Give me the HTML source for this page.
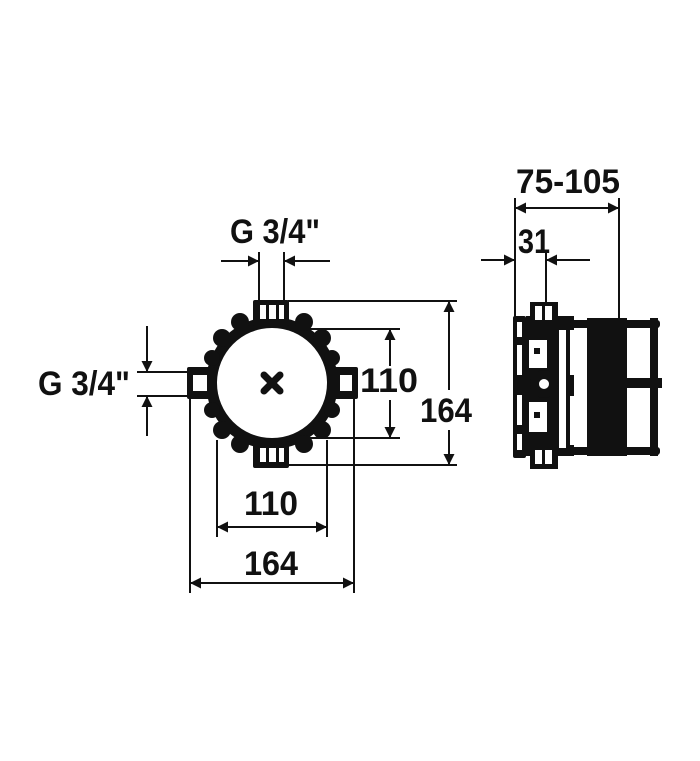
<!DOCTYPE html>
<html><head><meta charset="utf-8"><style>html,body{margin:0;padding:0;background:#fff}svg{display:block}</style></head><body>
<svg width="700" height="761" viewBox="0 0 700 761" xmlns="http://www.w3.org/2000/svg">
<defs>
<marker id="a" viewBox="0 0 10 10" refX="10" refY="5" markerWidth="18" markerHeight="11" markerUnits="userSpaceOnUse" orient="auto"><path d="M0,0L10,5L0,10z" fill="#111"/></marker>
</defs>
<g fill="#111" font-family="Liberation Sans Narrow, Liberation Sans, sans-serif" font-weight="bold" font-size="34">
<text x="230" y="243" textLength="90" lengthAdjust="spacingAndGlyphs">G 3/4"</text>
<text x="38" y="395" textLength="92" lengthAdjust="spacingAndGlyphs">G 3/4"</text>
<text x="360" y="392" textLength="58" lengthAdjust="spacingAndGlyphs">110</text>
<text x="420" y="422" textLength="52" lengthAdjust="spacingAndGlyphs">164</text>
<text x="244" y="515" textLength="54" lengthAdjust="spacingAndGlyphs">110</text>
<text x="244" y="575" textLength="54" lengthAdjust="spacingAndGlyphs">164</text>
<text x="516" y="193" textLength="104" lengthAdjust="spacingAndGlyphs">75-105</text>
<text x="518" y="253" textLength="32" lengthAdjust="spacingAndGlyphs">31</text>
</g>
<g stroke="#111" stroke-width="2" fill="none">
<line x1="259" y1="252" x2="259" y2="300"/><line x1="284" y1="252" x2="284" y2="300"/>
<line x1="221" y1="261" x2="259" y2="261" marker-end="url(#a)"/><line x1="330" y1="261" x2="284" y2="261" marker-end="url(#a)"/>
<line x1="137" y1="372" x2="190" y2="372"/><line x1="137" y1="396" x2="190" y2="396"/>
<line x1="147" y1="326" x2="147" y2="372" marker-end="url(#a)"/><line x1="147" y1="436" x2="147" y2="396" marker-end="url(#a)"/>
<line x1="290" y1="329" x2="400" y2="329"/><line x1="290" y1="438" x2="400" y2="438"/>
<line x1="390" y1="366" x2="390" y2="329" marker-end="url(#a)"/><line x1="390" y1="400" x2="390" y2="438" marker-end="url(#a)"/>
<line x1="288" y1="301" x2="457" y2="301"/><line x1="288" y1="465" x2="457" y2="465"/>
<line x1="449" y1="390" x2="449" y2="301" marker-end="url(#a)"/><line x1="449" y1="430" x2="449" y2="465" marker-end="url(#a)"/>
<line x1="217" y1="440" x2="217" y2="537"/><line x1="327" y1="440" x2="327" y2="537"/>
<line x1="272" y1="527" x2="217" y2="527" marker-end="url(#a)"/><line x1="272" y1="527" x2="327" y2="527" marker-end="url(#a)"/>
<line x1="190" y1="398" x2="190" y2="593"/><line x1="354" y1="398" x2="354" y2="593"/>
<line x1="272" y1="583" x2="190" y2="583" marker-end="url(#a)"/><line x1="272" y1="583" x2="354" y2="583" marker-end="url(#a)"/>
<line x1="515" y1="198" x2="515" y2="318"/><line x1="619" y1="198" x2="619" y2="320"/>
<line x1="567" y1="208" x2="515" y2="208" marker-end="url(#a)"/><line x1="567" y1="208" x2="619" y2="208" marker-end="url(#a)"/>
<line x1="546" y1="252" x2="546" y2="302"/>
<line x1="481" y1="260" x2="515" y2="260" marker-end="url(#a)"/><line x1="590" y1="260" x2="546" y2="260" marker-end="url(#a)"/>
</g>
<g fill="#111">
<circle cx="272" cy="383" r="66"/>
<circle cx="240" cy="322" r="9"/><circle cx="304" cy="322" r="9"/><circle cx="222" cy="338" r="9"/><circle cx="322" cy="338" r="9"/>
<circle cx="212" cy="358" r="8"/><circle cx="332" cy="358" r="8"/><circle cx="212" cy="410" r="8"/><circle cx="332" cy="410" r="8"/>
<circle cx="222" cy="430" r="9"/><circle cx="322" cy="430" r="9"/><circle cx="240" cy="444" r="9"/><circle cx="304" cy="444" r="9"/>
<rect x="253" y="300" width="36" height="26" rx="2"/>
<rect x="253" y="441" width="36" height="27" rx="2"/>
<rect x="187" y="367" width="28" height="32" rx="2"/>
<rect x="330" y="367" width="28" height="32" rx="2"/>
</g>
<g fill="#fff">
<circle cx="272" cy="383" r="55"/>
<rect x="260" y="305" width="6" height="14"/><rect x="269" y="305" width="7" height="14"/><rect x="279" y="305" width="5" height="14"/>
<rect x="260" y="448" width="6" height="14"/><rect x="269" y="448" width="7" height="14"/><rect x="279" y="448" width="5" height="14"/>
<rect x="193" y="375" width="14" height="16"/><rect x="340" y="375" width="12" height="16"/>
</g>
<g stroke="#111" stroke-width="7" stroke-linecap="round"><line x1="264" y1="375" x2="280" y2="391"/><line x1="280" y1="375" x2="264" y2="391"/></g>
<g fill="#111">
<rect x="513" y="316" width="13" height="142" rx="2"/>
<rect x="530" y="302" width="28" height="24"/>
<rect x="530" y="445" width="28" height="24"/>
<rect x="526" y="316" width="48" height="140"/>
<rect x="570" y="320" width="90" height="8" rx="3"/>
<rect x="570" y="447" width="90" height="8" rx="3"/>
<rect x="587" y="318" width="40" height="138"/>
<rect x="650" y="318" width="8" height="138"/>
<rect x="600" y="378" width="62" height="10"/>
</g>
<g fill="#fff">
<rect x="517" y="322" width="5" height="15"/><rect x="517" y="345" width="5" height="30"/><rect x="517" y="395" width="5" height="30"/><rect x="517" y="434" width="5" height="16"/>
<rect x="535" y="306" width="7" height="14"/><rect x="545" y="306" width="7" height="14"/>
<rect x="535" y="450" width="7" height="14"/><rect x="545" y="450" width="7" height="14"/>
<rect x="529" y="340" width="18" height="28"/><rect x="529" y="402" width="18" height="30"/>
<rect x="559" y="330" width="7" height="118"/>
<rect x="570" y="330" width="15" height="45"/><rect x="570" y="396" width="15" height="49"/>
<rect x="631" y="330" width="17" height="45"/><rect x="631" y="391" width="17" height="54"/>
</g>
<rect x="534" y="348" width="6" height="6" fill="#111"/><rect x="534" y="412" width="6" height="6" fill="#111"/>
<circle cx="544" cy="384" r="14" fill="#111"/><circle cx="544" cy="384" r="5" fill="#fff"/>
</svg>
</body></html>
